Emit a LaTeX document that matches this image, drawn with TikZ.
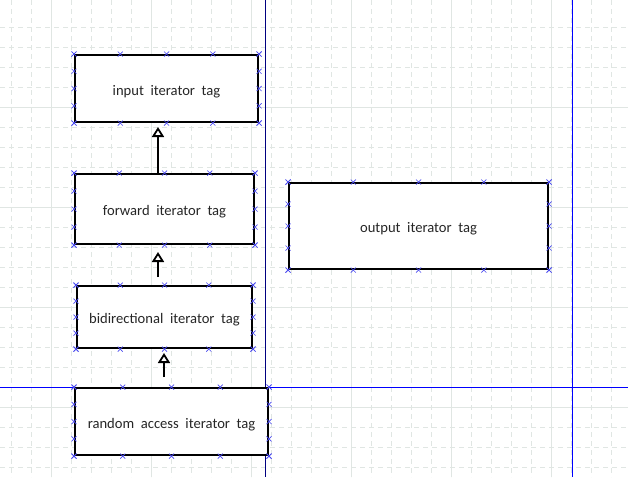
\documentclass[tikz,border=0pt]{standalone}
\usepackage{fontspec}
\setmainfont{Carlito}
\usetikzlibrary{arrows.meta,calc}
\definecolor{gridc}{HTML}{E0E6E3}
\definecolor{navyc}{HTML}{000080}
\definecolor{bluec}{HTML}{0000FF}
\definecolor{mkc}{HTML}{4A4AF0}
\tikzset{
  box/.style={draw=black, line width=2pt, fill=white, inner sep=0pt,
    text height=14pt, text depth=1pt,
    font=\fontsize{14.6}{16}\selectfont, text=black!85},
  gminor/.style={draw=gridc, line width=0.9pt, dash pattern=on 5pt off 4pt},
  gmajor/.style={draw=gridc, line width=0.9pt},
  mk/.style={draw=mkc, line width=0.7pt},
  inh/.style={draw=black, line width=2pt, -{Triangle[open, length=10pt, width=12pt, line width=1.8pt]}},
  guide/.style={line width=1.3pt}
}
\begin{document}
\begin{tikzpicture}[x=1pt,y=-1pt]
\useasboundingbox[fill=white] (0,0) rectangle (628,477);
% grid
\foreach \x in {11.7,31.7,...,620} \draw[gminor] (\x,0) -- (\x,477);
\foreach \y in {27,47,...,477} \draw[gminor] (0,\y) -- (628,\y);
\foreach \x in {51.7,151.7,...,620} \draw[gmajor] (\x,0) -- (\x,477);
\foreach \y in {107,207,307,407} \draw[gmajor] (0,\y) -- (628,\y);
% guide lines
\coordinate (vt1) at (265.5,0); \coordinate (vb1) at (265.5,477);
\coordinate (vt2) at (572.5,0); \coordinate (vb2) at (572.5,477);
\coordinate (hl) at (0,387.2); \coordinate (hr) at (628,387.2);
\draw[guide, draw=navyc] (vt1) -- (vb1);
\draw[guide, draw=bluec] (vt2) -- (vb2);
\draw[guide, draw=bluec] (hl) -- (hr);
% boxes
\node[box, minimum width=183pt, minimum height=67pt] (input) at (166.5,88.5) {input\ \ iterator\ \ tag};
\node[box, minimum width=179pt, minimum height=70pt] (forward) at (164.5,209) {forward\ \ iterator\ \ tag};
\node[box, minimum width=259pt, minimum height=86pt] (output) at (418.5,226) {output\ \ iterator\ \ tag};
\node[box, minimum width=175pt, minimum height=62pt] (bidir) at (164.5,317) {bidirectional\ \ iterator\ \ tag};
\node[box, minimum width=193pt, minimum height=67pt] (random) at (171.5,421.5) {random\ \ access\ \ iterator\ \ tag};
% markers
\foreach \n in {input,forward,output,bidir,random}{
  \foreach \t in {0,0.25,0.5,0.75,1}{
    \foreach \a/\b in {north west/north east, south west/south east, north west/south west, north east/south east}{
      \draw[mk] ($(\n.\a)!\t!(\n.\b)$) +(-2.5,-2.5) -- +(2.5,2.5) +(-2.5,2.5) -- +(2.5,-2.5);
    }
  }
}
% inheritance arrows
\draw[inh] ([xshift=-6.5pt]forward.north) -- ([xshift=-8.5pt,yshift=-4pt]input.south);
\draw[inh] ([xshift=-6.5pt,yshift=8pt]bidir.north) -- ([xshift=-6.5pt,yshift=-7pt]forward.south);
\draw[inh] ([xshift=-7.5pt,yshift=10pt]random.north) -- ([xshift=-0.5pt,yshift=-4pt]bidir.south);
\end{tikzpicture}
\end{document}
